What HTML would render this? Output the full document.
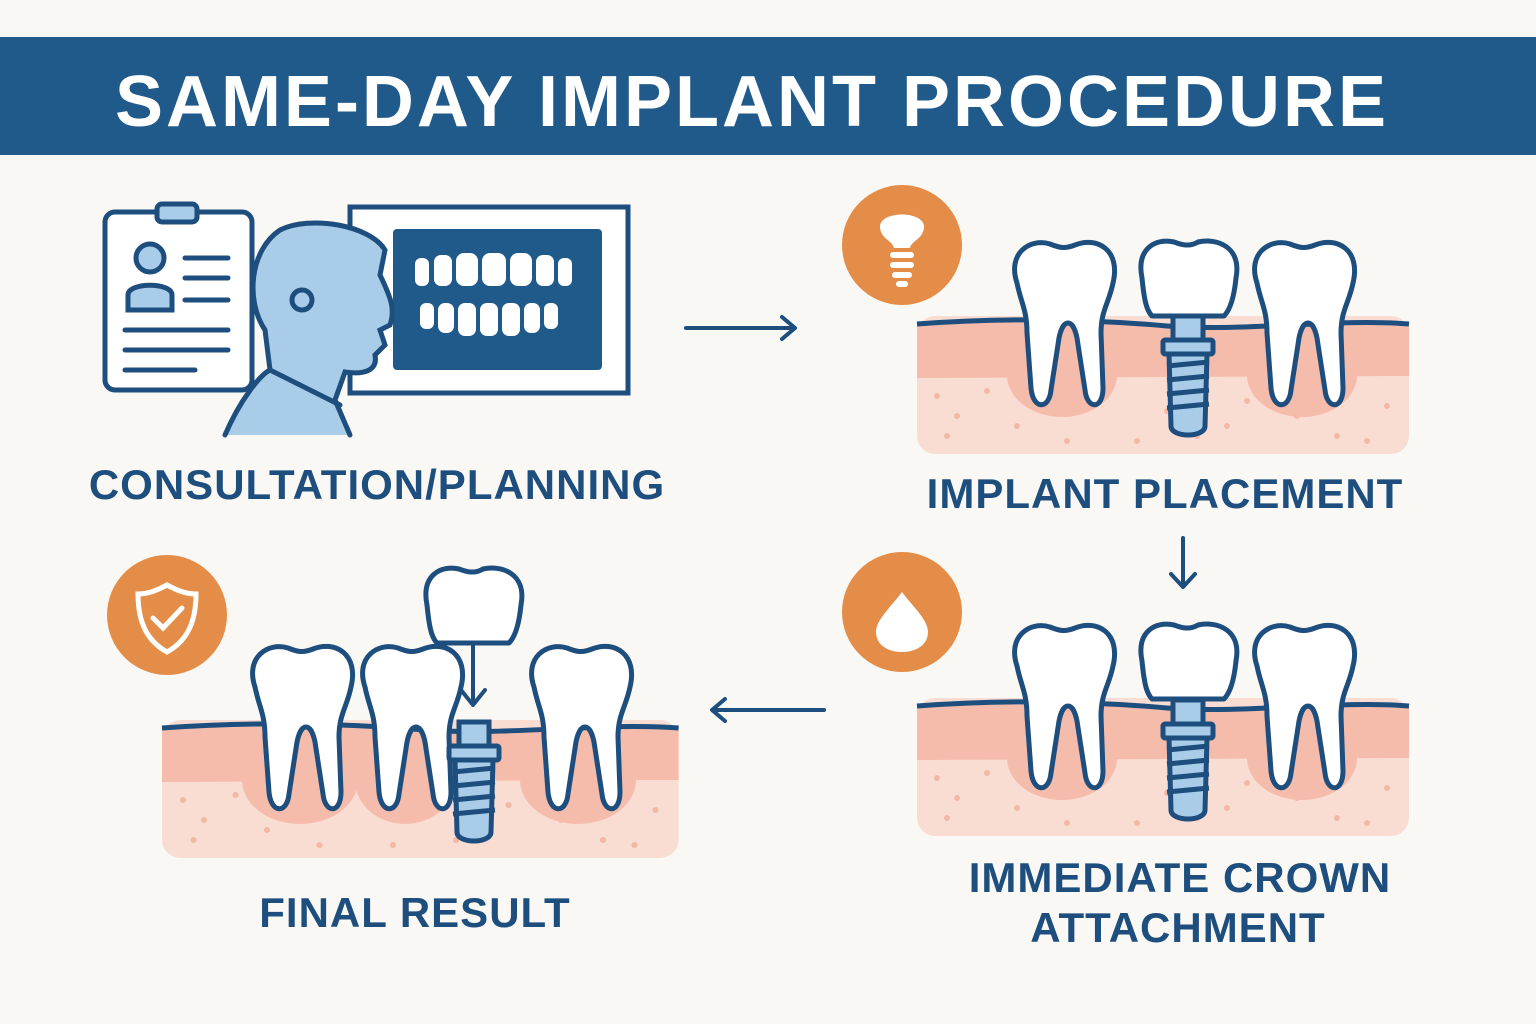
<!DOCTYPE html>
<html><head><meta charset="utf-8"><style>
body{margin:0;background:#faf8f4;}
svg{display:block}
text{font-family:"Liberation Sans",sans-serif;font-weight:bold;}
</style></head><body>
<svg width="1536" height="1024" viewBox="0 0 1536 1024" xmlns="http://www.w3.org/2000/svg">
<defs>
<path id="tooth" d="M12,45 C2,15 25,0 45,6 C55,10 60,11 70,7 C92,-2 116,12 108,45 C104,65 96,72 96,95 L98,150 C98,172 82,172 80,152 L72,100 C68,80 58,80 54,100 L46,152 C44,172 28,172 26,150 L22,95 C22,72 16,65 12,45 Z" fill="#fff" stroke="#1d4e7e" stroke-width="5" stroke-linejoin="round"/>
<path id="crown" d="M6,40 C0,10 20,0 38,4 C46,7 54,9 62,4 C80,0 106,8 100,40 C98,60 94,72 88,78 L16,78 C10,72 8,60 6,40 Z" fill="#fff" stroke="#1d4e7e" stroke-width="5" stroke-linejoin="round"/>
<g id="screw" stroke="#1d4e7e" stroke-width="5" fill="#a9cde9">
<rect x="10" y="0" width="30" height="24"/>
<rect x="0" y="24" width="50" height="14" rx="2"/>
<path d="M6,38 L44,38 L42,110 C42,122 8,122 8,110 Z"/>
<path d="M4,50 L46,46 M4,64 L46,60 M4,78 L46,74 M4,92 L46,88" fill="none"/>
</g>
<g id="gum">
<rect x="0" y="0" width="492" height="138" rx="18" fill="#f9ddd3"/>
<path d="M0,6 C80,0 160,0 250,8 C330,14 420,0 492,6 L492,60 L0,62 Z" fill="#f5bcab"/>
<g fill="#f3b9a6"><circle cx="20" cy="80" r="3"/><circle cx="40" cy="100" r="3"/><circle cx="70" cy="75" r="3"/><circle cx="30" cy="120" r="3"/><circle cx="250" cy="95" r="3"/><circle cx="280" cy="120" r="3"/><circle cx="330" cy="85" r="3"/><circle cx="310" cy="110" r="3"/><circle cx="420" cy="120" r="3"/><circle cx="470" cy="90" r="3"/><circle cx="450" cy="125" r="3"/><circle cx="150" cy="125" r="3"/><circle cx="220" cy="125" r="3"/><circle cx="380" cy="100" r="3"/><circle cx="100" cy="110" r="3"/></g>
<path d="M0,8 C80,2 160,2 250,10 C330,16 420,2 492,8" fill="none" stroke="#1d4e7e" stroke-width="5"/>
</g>
</defs>
<rect x="0" y="37" width="1536" height="118" fill="#1f5a8a"/>
<text x="752" y="126" font-size="72" fill="#fff" text-anchor="middle" letter-spacing="3">SAME-DAY IMPLANT PROCEDURE</text>

<!-- consultation -->
<g stroke="#1d4e7e" stroke-width="5" fill="none" stroke-linecap="round">
<rect x="105" y="212" width="147" height="178" rx="10" fill="#fff"/>
<rect x="157" y="204" width="40" height="18" rx="5" fill="#a9cde9"/>
<circle cx="150" cy="258" r="14" fill="#a9cde9"/>
<path d="M128,310 L128,295 C128,282 172,282 172,295 L172,310 Z" fill="#a9cde9"/>
<path d="M185,258 H228 M185,278 H228 M185,300 H228 M125,330 H228 M125,350 H228 M125,370 H195"/>
<rect x="350" y="207" width="278" height="186" fill="#fff"/>
<rect x="393" y="229" width="209" height="141" rx="4" fill="#1f5a8a" stroke="none"/>
<path d="M225,435 C240,400 260,375 270,370 L265,330 C245,300 250,250 280,230 C310,215 370,225 385,250 L380,275 C392,300 395,310 390,325 L380,330 L385,345 L375,355 C378,370 365,375 345,372 L335,400 L350,435" fill="#a9cde9"/>
<path d="M270,370 C300,385 320,395 340,405"/>
<circle cx="302" cy="300" r="10" fill="#a9cde9"/>
</g>
<g fill="#fff">
<rect x="415" y="258" width="14" height="28" rx="6"/><rect x="434" y="255" width="18" height="31" rx="7"/><rect x="456" y="253" width="22" height="33" rx="8"/><rect x="482" y="253" width="24" height="33" rx="8"/><rect x="510" y="253" width="22" height="33" rx="8"/><rect x="536" y="255" width="18" height="31" rx="7"/><rect x="558" y="258" width="14" height="28" rx="6"/>
<rect x="420" y="303" width="14" height="26" rx="6"/><rect x="438" y="303" width="16" height="30" rx="7"/><rect x="458" y="303" width="18" height="33" rx="7"/><rect x="480" y="303" width="18" height="33" rx="7"/><rect x="502" y="303" width="18" height="33" rx="7"/><rect x="524" y="303" width="16" height="30" rx="7"/><rect x="544" y="303" width="14" height="26" rx="6"/>
</g>
<text x="377" y="499" font-size="42" fill="#1d4e7e" text-anchor="middle" letter-spacing="1">CONSULTATION/PLANNING</text>

<!-- arrows -->
<g stroke="#1d4e7e" stroke-width="4" fill="none" stroke-linecap="round" stroke-linejoin="round">
<path d="M686,328 H794 M782,317 L795,328 L782,339"/>
<path d="M1183,538 V586 M1171,574 L1183,587 L1195,574"/>
<path d="M824,710 H713 M725,699 L712,710 L725,721"/>
<path d="M473,642 V704 M461,690 L473,705 L485,690"/>
</g>

<!-- implant placement -->
<circle cx="902" cy="245" r="60" fill="#e48d48"/>
<path d="M880,228 C878,210 926,210 924,228 C922,240 912,240 910,248 H894 C892,240 882,240 880,228 Z" fill="#fff"/>
<g fill="#fff"><rect x="890" y="252" width="24" height="6" rx="3"/><rect x="890" y="262" width="24" height="6" rx="3"/><rect x="892" y="272" width="20" height="6" rx="3"/><rect x="896" y="281" width="12" height="6" rx="3"/></g>
<use href="#gum" x="917" y="316"/>
<g fill="#f5bcab"><ellipse cx="1062" cy="375" rx="55" ry="42"/><ellipse cx="1302" cy="375" rx="55" ry="42"/></g>
<use href="#tooth" x="1005" y="238"/>
<use href="#crown" x="1136" y="238"/>
<use href="#screw" x="1163" y="316"/>
<use href="#tooth" x="1245" y="238"/>
<text x="1165" y="508" font-size="42" fill="#1d4e7e" text-anchor="middle" letter-spacing="1">IMPLANT PLACEMENT</text>

<!-- immediate crown -->
<circle cx="902" cy="612" r="60" fill="#e48d48"/>
<path d="M902,592 C890,608 876,620 876,632 C876,645 888,652 902,652 C916,652 928,645 928,632 C928,620 914,608 902,592 Z" fill="#fff"/>
<use href="#gum" x="917" y="698"/>
<g fill="#f5bcab"><ellipse cx="1062" cy="758" rx="55" ry="42"/><ellipse cx="1302" cy="758" rx="55" ry="42"/></g>
<use href="#tooth" x="1005" y="621"/>
<use href="#crown" x="1136" y="621"/>
<use href="#screw" x="1163" y="700"/>
<use href="#tooth" x="1245" y="621"/>
<text x="1180" y="892" font-size="42" fill="#1d4e7e" text-anchor="middle" letter-spacing="1">IMMEDIATE CROWN</text>
<text x="1178" y="942" font-size="42" fill="#1d4e7e" text-anchor="middle" letter-spacing="1">ATTACHMENT</text>

<!-- final result -->
<circle cx="167" cy="615" r="60" fill="#e48d48"/>
<path d="M167,585 C180,592 188,594 196,594 C196,625 185,642 167,652 C149,642 138,625 138,594 C146,594 154,592 167,585 Z" fill="none" stroke="#fff" stroke-width="5"/>
<path d="M153,618 L163,628 L182,608" fill="none" stroke="#fff" stroke-width="5" stroke-linecap="round"/>
<g transform="translate(162,720) scale(1.05,1)"><use href="#gum"/></g>
<g fill="#f5bcab"><ellipse cx="300" cy="780" rx="58" ry="44"/><ellipse cx="405" cy="780" rx="50" ry="44"/><ellipse cx="578" cy="780" rx="58" ry="44"/></g>
<use href="#tooth" x="243" y="642"/>
<use href="#tooth" x="353" y="642"/>
<use href="#tooth" x="522" y="642"/>
<use href="#crown" x="421" y="565"/>
<use href="#screw" x="449" y="722"/>
<text x="415" y="927" font-size="42" fill="#1d4e7e" text-anchor="middle" letter-spacing="1">FINAL RESULT</text>
</svg>
</body></html>
